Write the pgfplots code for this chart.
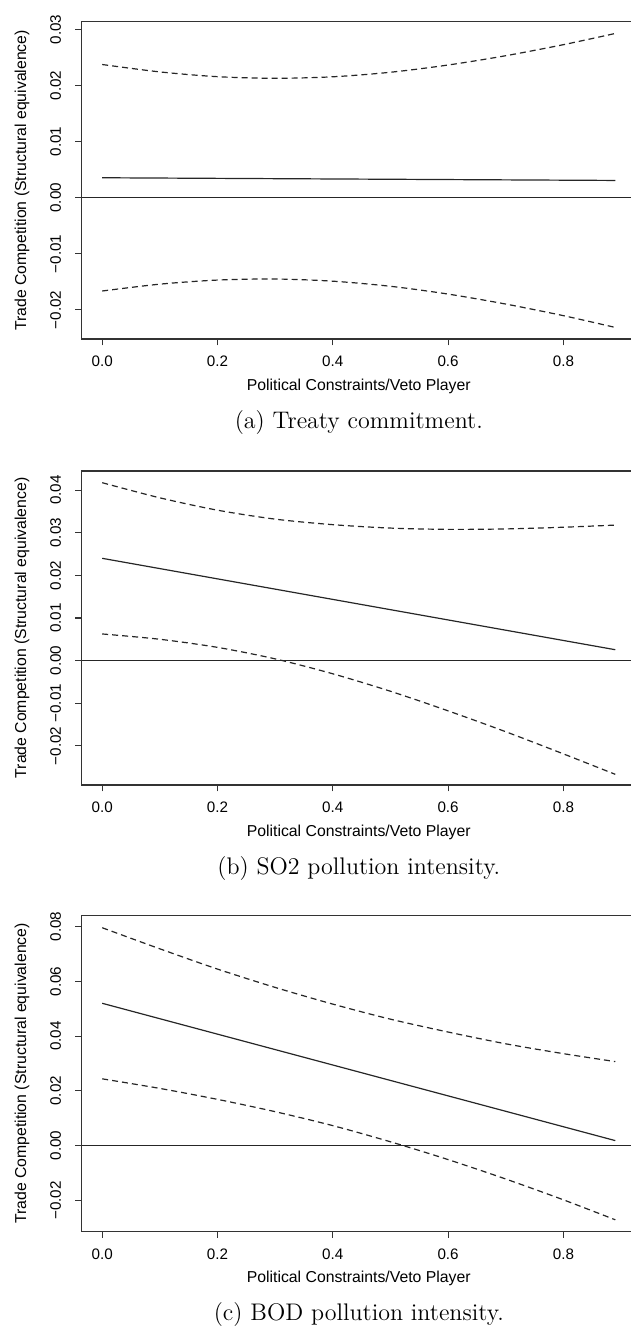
\documentclass[border=0pt]{standalone}
\usepackage{fontspec}
\usepackage{pgfplots}
\pgfplotsset{compat=1.18}
\newfontfamily\rfont{Liberation Sans}

\pgfplotsset{
  rplot/.style={
    scale only axis, width=277.05pt,
    xmin=-0.0356, xmax=0.9256,
    scaled y ticks=false, scaled x ticks=false,
    axis line style={black!80, line width=0.65pt},
    tick align=outside, major tick length=3.2pt,
    tick style={black!80, line width=0.6pt},
    xtick={0,0.2,0.4,0.6,0.8},
    xticklabels={0.0,0.2,0.4,0.6,0.8},
    xtick pos=bottom, ytick pos=left,
    tick label style={font=\rfont\fontsize{7.6}{9}\selectfont},
    xticklabel style={yshift=-1.9pt},
    yticklabel style={xshift=-3.6pt, rotate=90, anchor=south},
    xlabel={Political Constraints/Veto Player},
    ylabel={Trade Competition (Structural equivalence)},
    every axis x label/.style={at={(axis description cs:0.5,0)}, anchor=center,
      yshift=-23.75pt, font=\rfont\fontsize{7.9}{9}\selectfont},
    every axis y label/.style={at={(axis description cs:0,0.5)}, xshift=-29.85pt,
      rotate=90, anchor=center, font=\rfont\fontsize{7.9}{9}\selectfont},
  },
  ci/.style={black!85, line width=0.6pt, dash pattern=on 3pt off 2pt, smooth},
  est/.style={black!85, line width=0.6pt},
}

\begin{document}
\begin{tikzpicture}
\useasboundingbox (0,0) rectangle (315.5pt,664pt);

% (a) treaty commitment
\begin{axis}[rplot, at={(40.85pt,494.5pt)}, anchor=south west, height=158.65pt,
  ymin=-0.0252, ymax=0.0314,
  ytick={-0.02,-0.01,0,0.01,0.02,0.03},
  yticklabels={−0.02,−0.01,0.00,0.01,0.02,0.03}]
\addplot[est] coordinates {(-0.0356,0) (0.9256,0)};
\addplot[est] coordinates {(0,0.00356) (0.89,0.00308)};
\addplot[ci] coordinates {
  (0,0.02376) (0.1,0.02244) (0.2,0.02159) (0.3,0.0213) (0.4,0.02157)
  (0.5,0.02238) (0.6,0.02367) (0.7,0.02533) (0.8,0.0273) (0.89,0.0293)};
\addplot[ci] coordinates {
  (0,-0.01664) (0.1,-0.01542) (0.2,-0.01469) (0.3,-0.0145) (0.4,-0.01489)
  (0.5,-0.0158) (0.6,-0.01719) (0.7,-0.01897) (0.8,-0.02104) (0.89,-0.02314)};
\end{axis}
\node[font=\fontsize{12}{14}\selectfont] at (179.4pt,452.65pt) {(a) Treaty commitment.};

% (b) SO2 pollution intensity
\begin{axis}[rplot, at={(40.85pt,271.5pt)}, anchor=south west, height=157pt,
  ymin=-0.0292, ymax=0.0445,
  ytick={-0.02,-0.01,0,0.01,0.02,0.03,0.04},
  yticklabels={−0.02,−0.01,0.00,0.01,0.02,0.03,0.04}]
\addplot[est] coordinates {(-0.0356,0) (0.9256,0)};
\addplot[est] coordinates {(0,0.0240) (0.89,0.00255)};
\addplot[ci] coordinates {
  (0,0.04175) (0.1,0.0382) (0.2,0.0353) (0.3,0.0332) (0.4,0.0319)
  (0.5,0.0311) (0.6,0.0308) (0.7,0.0309) (0.8,0.0313) (0.89,0.0318)};
\addplot[ci] coordinates {
  (0,0.00625) (0.1,0.0050) (0.2,0.0031) (0.3,0.0004) (0.4,-0.0031)
  (0.5,-0.0072) (0.6,-0.0118) (0.7,-0.0167) (0.8,-0.0219) (0.89,-0.0267)};
\end{axis}
\node[font=\fontsize{12}{14}\selectfont] at (179.4pt,229.65pt) {(b) SO2 pollution intensity.};

% (c) BOD pollution intensity
\begin{axis}[rplot, at={(40.85pt,48.35pt)}, anchor=south west, height=157.8pt,
  ymin=-0.0313, ymax=0.0840,
  ytick={-0.02,0,0.02,0.04,0.06,0.08},
  yticklabels={−0.02,0.00,0.02,0.04,0.06,0.08}]
\addplot[est] coordinates {(-0.0356,0) (0.9256,0)};
\addplot[est] coordinates {(0,0.0520) (0.89,0.00183)};
\addplot[ci] coordinates {
  (0,0.0796) (0.1,0.0719) (0.2,0.0645) (0.3,0.0578) (0.4,0.0517)
  (0.5,0.0462) (0.6,0.0415) (0.7,0.0372) (0.8,0.0336) (0.89,0.0307)};
\addplot[ci] coordinates {
  (0,0.0244) (0.1,0.0209) (0.2,0.0169) (0.3,0.0124) (0.4,0.0073)
  (0.5,0.0014) (0.6,-0.0051) (0.7,-0.0122) (0.8,-0.0198) (0.89,-0.0271)};
\end{axis}
\node[font=\fontsize{12}{14}\selectfont] at (179.4pt,6.65pt) {(c) BOD pollution intensity.};
\end{tikzpicture}
\end{document}
